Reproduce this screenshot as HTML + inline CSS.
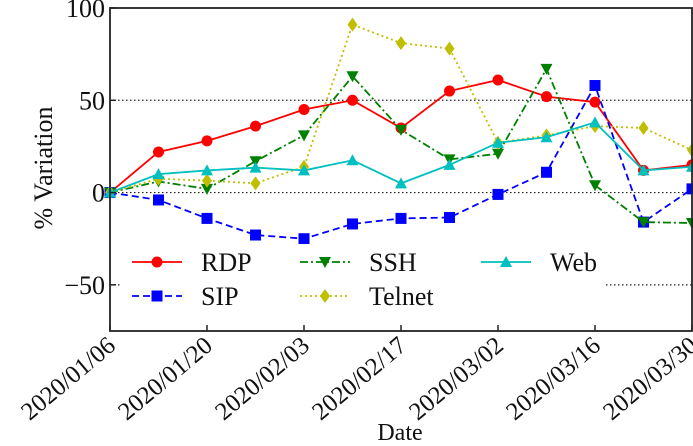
<!DOCTYPE html>
<html><head><meta charset="utf-8"><style>
html,body{margin:0;padding:0;background:#fff}
svg text{font-family:"Liberation Serif",serif;fill:#111}
</style></head><body>
<svg id="chart" width="693" height="441" xmlns="http://www.w3.org/2000/svg">
<g id="grid"></g><g id="series"></g><g id="axes"></g><g id="legend"></g>
</svg>
<script>
const dates = ["2020/01/06","2020/01/13","2020/01/20","2020/01/27","2020/02/03","2020/02/10","2020/02/17","2020/02/24","2020/03/02","2020/03/09","2020/03/16","2020/03/23","2020/03/30"];
const rdp = [0,22,28,36,45,50,35,55,61,52,49,12,15];
const sip = [0,-4,-14,-23,-25,-17,-14,-13.5,-1,11,58,-16,2];
const ssh = [0,6,2,17,31,63,34,18,21,67,4,-16,-16.5];
const telnet = [0,7.5,6.5,5,14,91,81,78,27,31,36,35,23];
const web = [0,10,12,13.5,12,17.5,5,15,27,30,38,12,14];
const yTicks = [100,50,0,-50];
const yTickLabels = ["100","50","0","\u221250"];
const xTickIdx = [0,2,4,6,8,10,12];

const NS="http://www.w3.org/2000/svg";
const L=110,R=692,T=8,B=331;
const x=i=>L+i*(R-L)/(dates.length-1);
const y=v=>T+(100-v)*(B-T)/175;
function mk(tag,attrs,parent){const e=document.createElementNS(NS,tag);for(const k in attrs)e.setAttribute(k,attrs[k]);parent.appendChild(e);return e;}
const grid=document.getElementById('grid'),ser=document.getElementById('series'),ax=document.getElementById('axes'),leg=document.getElementById('legend');

yTicks.forEach(v=>{ if(v===100) return;
  const g=mk('line',{x1:L,x2:R,y1:y(v),y2:y(v),stroke:'#222','stroke-width':1.2,'stroke-dasharray':'1.5,2.5'},grid);
  
  
});

function marker(type,cx,cy,color,p){
  let e;
  if(type==='o') e=mk('circle',{cx,cy,r:5.5,fill:color},p);
  else if(type==='s') e=mk('rect',{x:cx-5.5,y:cy-5.5,width:11,height:11,fill:color},p);
  else if(type==='v') e=mk('polygon',{points:`${cx-6},${cy-5} ${cx+6},${cy-5} ${cx},${cy+6}`,fill:color},p);
  else if(type==='^') e=mk('polygon',{points:`${cx-6},${cy+5} ${cx+6},${cy+5} ${cx},${cy-6}`,fill:color},p);
  else e=mk('polygon',{points:`${cx},${cy-7} ${cx+5},${cy} ${cx},${cy+7} ${cx-5},${cy}`,fill:color},p);
  return e;
}
const series=[
  {name:'RDP',data:rdp,color:'#ff0000',dash:'',m:'o'},
  {name:'SIP',data:sip,color:'#0000ff',dash:'7,4',m:'s'},
  {name:'SSH',data:ssh,color:'#008000',dash:'8,3,2,3',m:'v'},
  {name:'Telnet',data:telnet,color:'#bfbf00',dash:'2,3',m:'d'},
  {name:'Web',data:web,color:'#00bfbf',dash:'',m:'^'}
];
series.forEach(s=>{
  const g=mk('g',{},ser);
  
  
  const pl=mk('polyline',{points:s.data.map((v,i)=>x(i)+','+y(v)).join(' '),fill:'none',stroke:s.color,'stroke-width':1.8,'stroke-dasharray':s.dash},g);
  
  
  s.data.forEach((v,i)=>{
    const m=marker(s.m,x(i),y(v),s.color,g);
    
    
  });
});

const lb=mk('rect',{x:122,y:244,width:484,height:70,fill:'#fff'},leg);


const pos=[[132,262],[132,296],[300,262],[300,296],[481,262]];
series.forEach((s,k)=>{
  const [lx,ly]=pos[k];
  const g=mk('g',{},leg);
  
  
  mk('line',{x1:lx,x2:lx+50,y1:ly,y2:ly,stroke:s.color,'stroke-width':1.8,'stroke-dasharray':s.dash},g);
  marker(s.m,lx+25,ly,s.color,g);
  const t=mk('text',{x:lx+69,y:ly+9,'font-size':26},g);t.textContent=s.name;
});

const fr=mk('rect',{x:L,y:T,width:R-L,height:B-T,fill:'none',stroke:'#222','stroke-width':1.8},ax);


yTicks.forEach((v,k)=>{
  mk('line',{x1:L,x2:L+6,y1:y(v),y2:y(v),stroke:'#222','stroke-width':1.5},ax);
  const t=mk('text',{x:L-5,y:y(v)+9,'font-size':26,'text-anchor':'end'},ax);
  t.textContent=yTickLabels[k];
  
  
});
xTickIdx.forEach(i=>{
  mk('line',{x1:x(i),x2:x(i),y1:B,y2:B-6,stroke:'#222','stroke-width':1.5},ax);
  const t=mk('text',{x:0,y:0,'font-size':25,'text-anchor':'end',transform:`translate(${x(i)+7},${B+17}) rotate(-40)`},ax);
  t.textContent=dates[i];
  
  
});
const xt=mk('text',{x:400,y:440,'font-size':24,'text-anchor':'middle'},ax);xt.textContent='Date';


const yt=mk('text',{x:0,y:0,'font-size':26,'text-anchor':'middle',transform:'translate(52,168) rotate(-90)'},ax);yt.textContent='% Variation';


</script>
</body></html>
